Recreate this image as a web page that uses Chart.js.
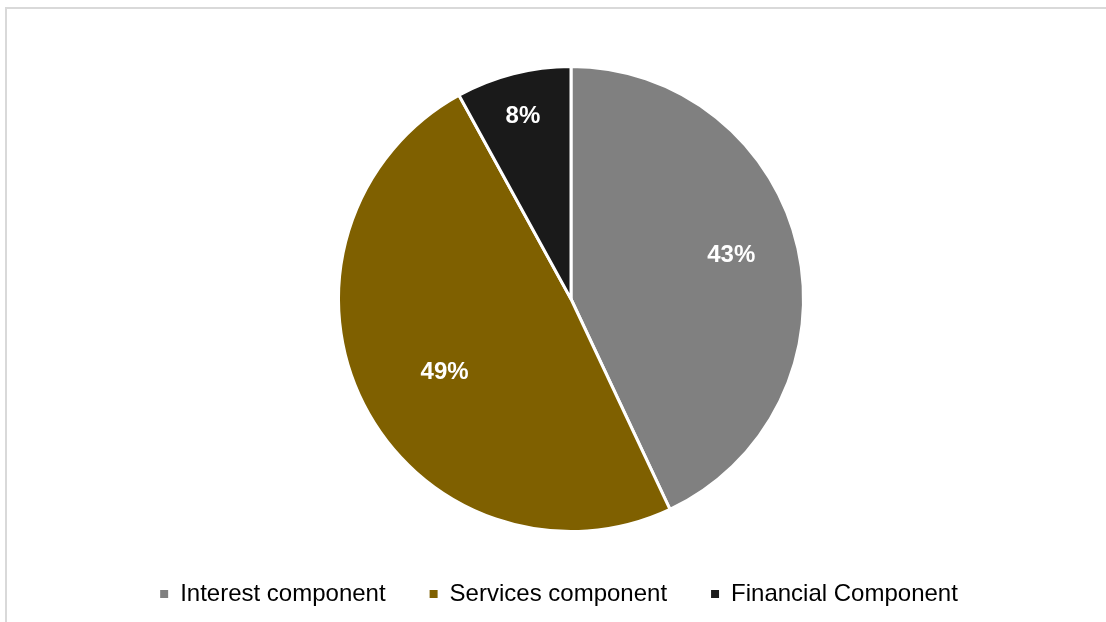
<!DOCTYPE html>
<html>
<head>
<meta charset="utf-8">
<script src="https://cdn.jsdelivr.net/npm/chart.js@4"></script>
<style>
  html, body { margin: 0; padding: 0; background: #ffffff; }
  #wrap { position: relative; width: 1106px; height: 622px; overflow: hidden; }
  #frame { position: absolute; left: 5px; top: 7px; width: 1200px; height: 700px;
           border-left: 2px solid #d9d9d9; border-top: 2px solid #d9d9d9; }
  canvas { position: absolute; left: 0; top: 0; }
</style>
</head>
<body>
<div id="wrap">
  <div id="frame"></div>
  <canvas id="c" width="1106" height="622"></canvas>
</div>
<script>
const categories = ["Interest component", "Services component", "Financial Component"];
const shareValues = [43, 49, 8];
const sliceColors = ["#808080", "#7f6000", "#1a1a1a"];

// label placement styling (fraction of radius, angular nudge in degrees)
const labelRadiusFrac = [0.715, 0.626, 0.815];
const labelAngleNudge = [-2.8, -2.7, -0.3];

const shiftPlugin = {
  id: 'shiftArea',
  afterLayout(chart) {
    const ca = chart.chartArea;
    ca.left += 24;
    ca.width = ca.right - ca.left;
  }
};

const labelPlugin = {
  id: 'sliceLabels',
  afterDatasetsDraw(chart) {
    const ctx = chart.ctx;
    const meta = chart.getDatasetMeta(0);
    const total = shareValues.reduce((a, b) => a + b, 0);
    ctx.save();
    ctx.font = "bold 24px 'Liberation Sans', Arial, sans-serif";
    ctx.fillStyle = "#ffffff";
    ctx.textAlign = "center";
    ctx.textBaseline = "middle";
    meta.data.forEach((arc, i) => {
      const p = arc.getProps(['x', 'y', 'startAngle', 'endAngle', 'outerRadius'], true);
      const mid = (p.startAngle + p.endAngle) / 2 + labelAngleNudge[i] * Math.PI / 180;
      const r = p.outerRadius * labelRadiusFrac[i];
      const pct = Math.round(shareValues[i] / total * 100) + "%";
      ctx.fillText(pct, p.x + Math.cos(mid) * r, p.y + 1 + Math.sin(mid) * r);
    });
    ctx.restore();
  }
};

new Chart(document.getElementById('c'), {
  type: 'pie',
  data: {
    labels: categories,
    datasets: [{
      data: shareValues,
      backgroundColor: sliceColors,
      borderColor: "#ffffff",
      borderWidth: 3,
      radius: 232.5
    }]
  },
  plugins: [shiftPlugin, labelPlugin],
  options: {
    responsive: false,
    animation: false,
    devicePixelRatio: 1,
    layout: { padding: { top: 60, bottom: 6, left: 12, right: 0 } },
    plugins: {
      tooltip: { enabled: false },
      legend: {
        position: 'bottom',
        labels: {
          boxWidth: 8,
          boxHeight: 8,
          padding: 44,
          color: "#000000",
          font: { family: "'Liberation Sans', Arial, sans-serif", size: 24 },
          generateLabels(chart) {
            return categories.map((name, i) => ({
              text: name,
              fillStyle: sliceColors[i],
              strokeStyle: sliceColors[i],
              lineWidth: 0,
              hidden: false,
              index: i
            }));
          }
        }
      }
    }
  }
});
</script>
</body>
</html>
